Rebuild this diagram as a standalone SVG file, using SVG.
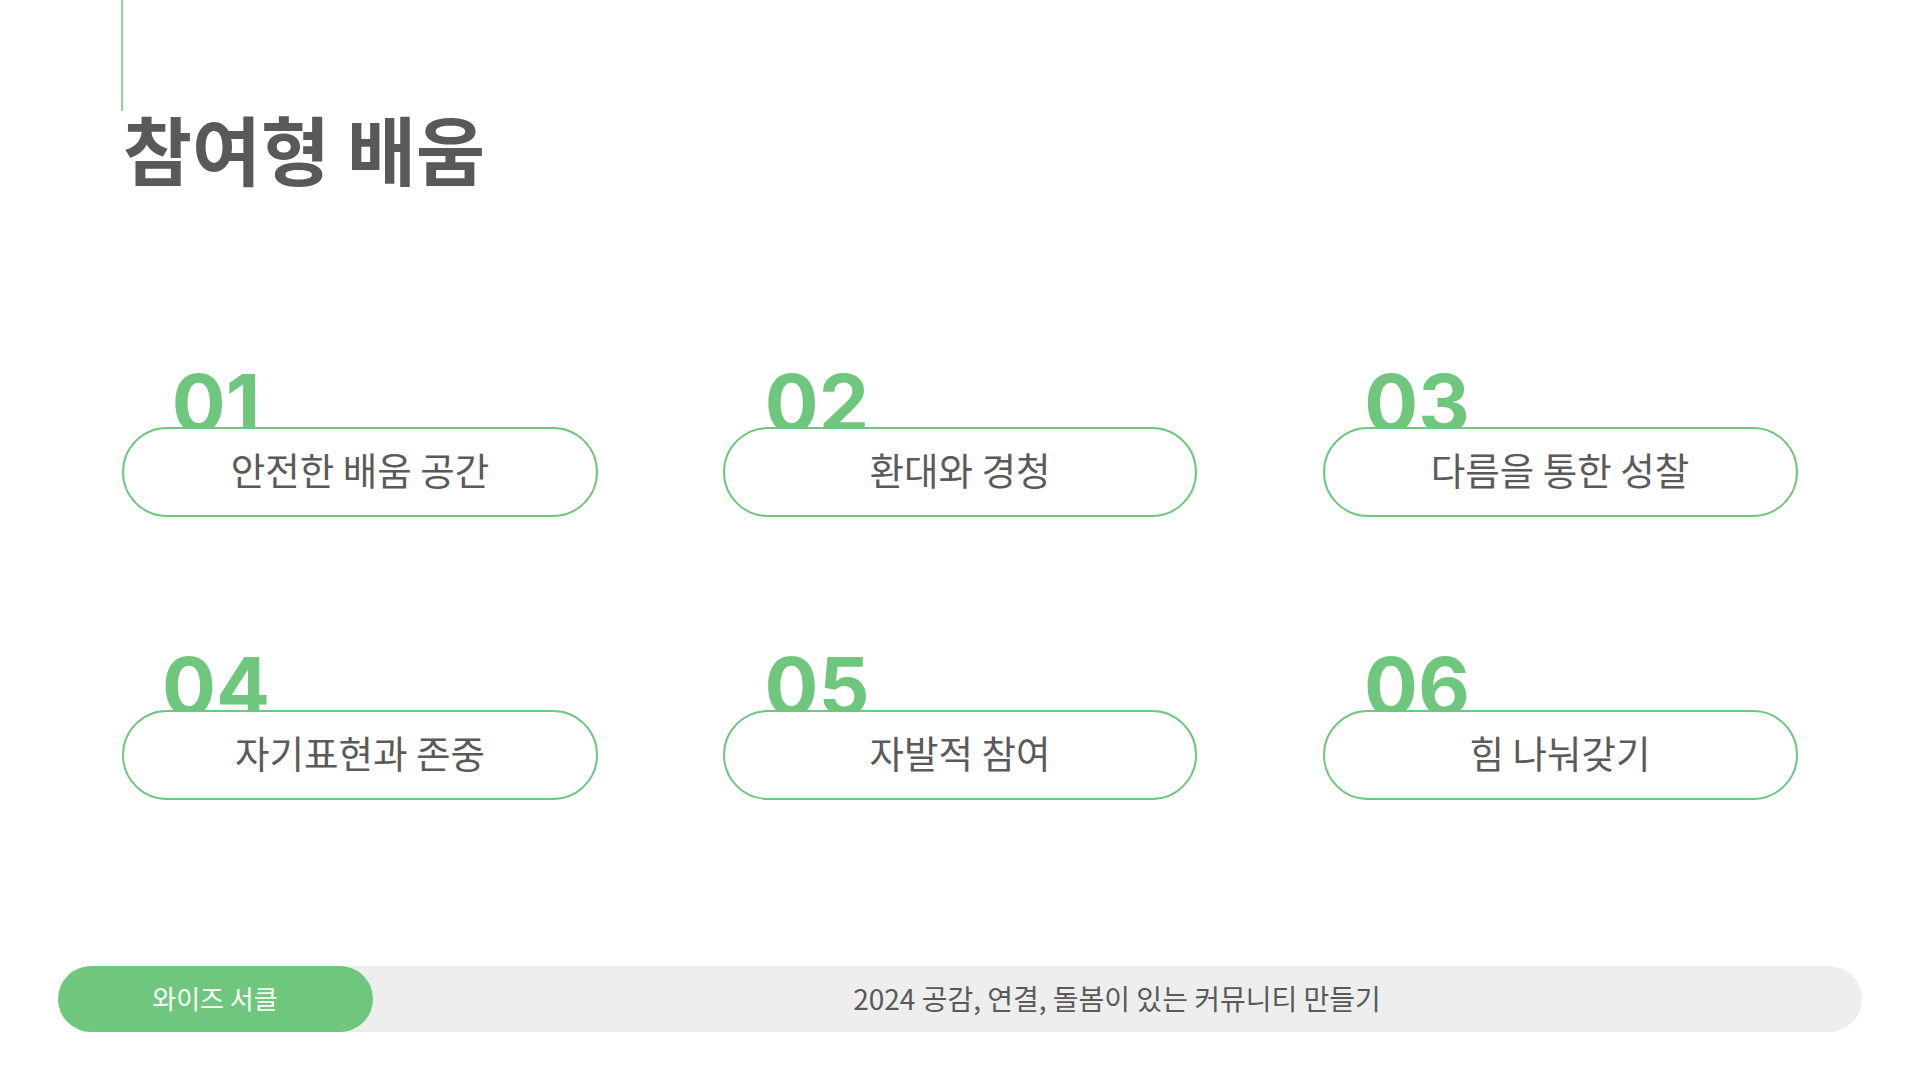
<svg xmlns="http://www.w3.org/2000/svg" width="1920" height="1080" viewBox="0 0 1920 1080">
<style>
.num{font-family:Inter,"Noto Sans",sans-serif;font-weight:700;font-size:80px;fill:#6fc77e;text-anchor:middle}
.pill{fill:#ffffff;stroke:#6fc77e;stroke-width:2}
.lbl{font-family:"Noto Sans CJK KR",sans-serif;font-size:37.5px;fill:#5a5a5a;text-anchor:middle}
</style>
<rect width="1920" height="1080" fill="#ffffff"/>
<line x1="122" y1="0" x2="122" y2="111" stroke="#8fd49a" stroke-width="2"/>
<text x="123" y="180" font-family="'Noto Sans CJK KR',sans-serif" font-weight="700" font-size="75" fill="#595959">참여형 배움</text>
<g id="node1"><text class="num" x="216" y="432">01</text><rect class="pill" x="123" y="428" width="474" height="88" rx="44"/><text class="lbl" x="360" y="485">안전한 배움 공간</text></g>
<g id="node2"><text class="num" x="817" y="432">02</text><rect class="pill" x="724" y="428" width="472" height="88" rx="44"/><text class="lbl" x="960" y="485">환대와 경청</text></g>
<g id="node3"><text class="num" x="1417" y="432">03</text><rect class="pill" x="1324" y="428" width="473" height="88" rx="44"/><text class="lbl" x="1560" y="485">다름을 통한 성찰</text></g>
<g id="node4"><text class="num" x="216" y="715">04</text><rect class="pill" x="123" y="711" width="474" height="88" rx="44"/><text class="lbl" x="360" y="768">자기표현과 존중</text></g>
<g id="node5"><text class="num" x="817" y="715">05</text><rect class="pill" x="724" y="711" width="472" height="88" rx="44"/><text class="lbl" x="960" y="768">자발적 참여</text></g>
<g id="node6"><text class="num" x="1417" y="715">06</text><rect class="pill" x="1324" y="711" width="473" height="88" rx="44"/><text class="lbl" x="1560" y="768">힘 나눠갖기</text></g>
<g id="connectors"></g>
<g id="footer">
<rect x="58" y="966" width="1804" height="66" rx="33" fill="#eeeeee"/>
<rect x="58" y="966" width="315" height="66" rx="33" fill="#6fc77e"/>
<text x="215" y="1009" font-family="'Noto Sans CJK KR',sans-serif" font-size="26" fill="#ffffff" text-anchor="middle">와이즈 서클</text>
<text x="1117" y="1010" font-family="'Noto Sans CJK KR',sans-serif" font-size="28" fill="#595959" text-anchor="middle">2024 공감, 연결, 돌봄이 있는 커뮤니티 만들기</text>
</g>
</svg>
